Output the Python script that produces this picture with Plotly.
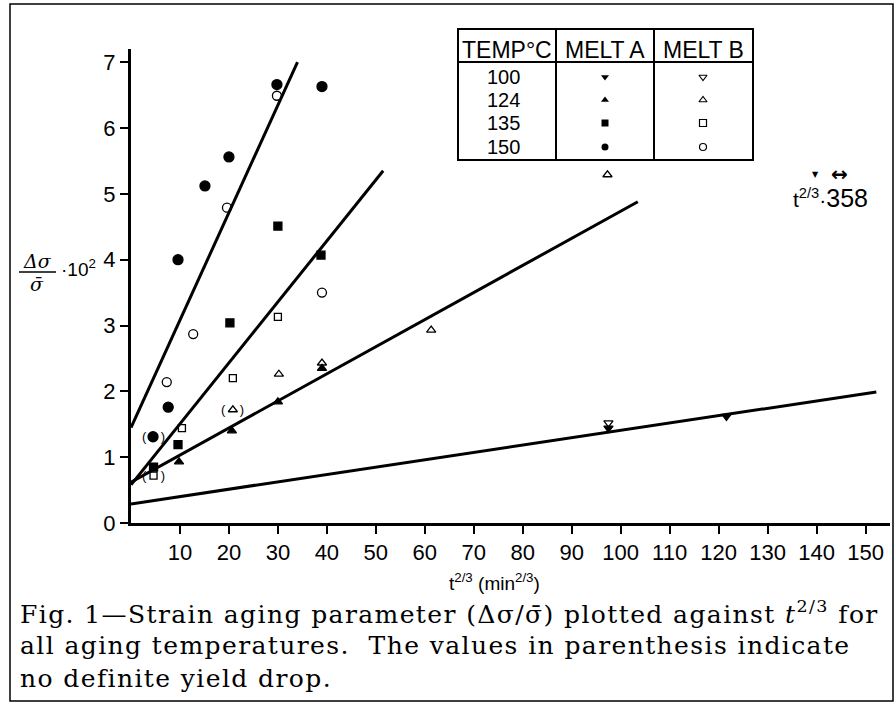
import plotly.graph_objects as go

# ---------------- data ----------------
# Melt A (filled) and Melt B (open) for each aging temperature
a100_x = [97.5, 121.6]
a100_y = [1.44, 1.62]
b100_x = [97.5]
b100_y = [1.52]

a124_x = [9.8, 20.6, 30.0, 39.0]
a124_y = [0.93, 1.40, 1.84, 2.35]
b124_x = [20.8, 30.2, 39.0, 61.3, 97.3]
b124_y = [1.72, 2.26, 2.43, 2.93, 5.29]

a135_x = [4.6, 9.6, 20.2, 30.0, 38.8]
a135_y = [0.85, 1.19, 3.04, 4.51, 4.07]
b135_x = [4.6, 10.4, 20.8, 30.0]
b135_y = [0.72, 1.44, 2.20, 3.13]

a150_x = [4.5, 7.6, 9.6, 15.1, 20.0, 29.8, 39.0]
a150_y = [1.31, 1.76, 4.00, 5.12, 5.56, 6.66, 6.63]
b150_x = [7.3, 12.7, 19.6, 29.8, 39.0]
b150_y = [2.14, 2.87, 4.79, 6.49, 3.50]

# points without definite yield drop (shown in parenthesis)
paren_x = [4.5, 20.8, 4.6]
paren_y = [1.31, 1.72, 0.72]

# fitted lines: start (x=0) and end points
line_names = ["150", "135", "124", "100"]
line_x0 = [0, 0, 0, 0]
line_y0 = [1.45, 0.58, 0.62, 0.29]
line_x1 = [34.0, 51.5, 103.5, 152.2]
line_y1 = [7.00, 5.35, 4.88, 1.99]

temps = ["100", "124", "135", "150"]
x_ticks = [10, 20, 30, 40, 50, 60, 70, 80, 90, 100, 110, 120, 130, 140, 150]
y_ticks = [0, 1, 2, 3, 4, 5, 6, 7]

# ---------------- layout geometry ----------------
W, H = 896, 704
L, R, T, B = 131, 6, 49, 181
XMAX, YMAX = 155, 7.2
PW, PH = W - L - R, H - T - B


def px(x):
    return (x - L) / PW


def py(y):
    return (H - B - y) / PH


def dx(x):  # pixel -> data x
    return (x - L) / PW * XMAX


def dy(y):  # pixel -> data y
    return (H - B - y) / PH * YMAX


fig = go.Figure()

# lines
for i in range(len(line_names)):
    fig.add_trace(go.Scatter(x=[line_x0[i], line_x1[i]], y=[line_y0[i], line_y1[i]],
                             mode="lines", line=dict(color="black", width=3),
                             showlegend=False, hoverinfo="skip", cliponaxis=False))


def pts(x, y, sym, size):
    fig.add_trace(go.Scatter(x=x, y=y, mode="markers", showlegend=False, cliponaxis=False,
                             marker=dict(symbol=sym, size=size, color="black",
                                         line=dict(color="black", width=1.3))))


pts(a100_x, a100_y, "triangle-down", 8)
pts(b100_x, b100_y, "triangle-down-open", 8)
pts(a124_x, a124_y, "triangle-up", 8)
pts(b124_x, b124_y, "triangle-up-open", 8)
pts(a135_x, a135_y, "square", 8)
pts(b135_x, b135_y, "square-open", 7)
pts(a150_x, a150_y, "circle", 10)
pts(b150_x, b150_y, "circle-open", 9)


def ann(x, y, text, size, family="Liberation Sans", xanchor="center", yanchor="middle",
        xref="paper", yref="paper"):
    return dict(x=x, y=y, xref=xref, yref=yref, text=text, showarrow=False,
                xanchor=xanchor, yanchor=yanchor,
                font=dict(size=size, color="black", family=family))


annotations = []
for x, y in zip(paren_x, paren_y):
    annotations.append(ann(x, y, "(&nbsp;&nbsp;&nbsp;&nbsp;)", 13, xref="x", yref="y"))

# ---------------- legend table ----------------
tl, tr, tt, tb = 458, 753, 29, 160
hsep, c1, c2 = 62, 556, 654
shapes = [
    dict(type="rect", xref="paper", yref="paper", x0=px(tl), x1=px(tr), y0=py(tb), y1=py(tt),
         line=dict(color="black", width=2)),
    dict(type="line", xref="paper", yref="paper", x0=px(tl), x1=px(tr), y0=py(hsep), y1=py(hsep),
         line=dict(color="black", width=2)),
    dict(type="line", xref="paper", yref="paper", x0=px(c1), x1=px(c1), y0=py(tb), y1=py(tt),
         line=dict(color="black", width=2)),
    dict(type="line", xref="paper", yref="paper", x0=px(c2), x1=px(c2), y0=py(tb), y1=py(tt),
         line=dict(color="black", width=2)),
    # outer frame of the picture
    dict(type="rect", xref="paper", yref="paper", x0=px(10), x1=px(893), y0=py(701), y1=py(4),
         line=dict(color="black", width=1.5)),
    # fraction bar of the y label
    dict(type="line", xref="paper", yref="paper", x0=px(19), x1=px(56), y0=py(272), y1=py(272),
         line=dict(color="black", width=1.5)),
]

for text, cx in [("TEMP°C", (tl + c1) / 2), ("MELT A", (c1 + c2) / 2), ("MELT B", (c2 + tr) / 2)]:
    annotations.append(ann(px(cx), py(50), text, 23))
row_y = [77, 100, 123, 147]
for t, ry in zip(temps, row_y):
    annotations.append(ann(px(503), py(ry), t, 20))

leg_y = [dy(r) for r in row_y]
fig.add_trace(go.Scatter(x=[dx(605)] * 4, y=leg_y, mode="markers", showlegend=False,
                         cliponaxis=False,
                         marker=dict(symbol=["triangle-down", "triangle-up", "square", "circle"],
                                     size=7, color="black")))
fig.add_trace(go.Scatter(x=[dx(703)] * 4, y=leg_y, mode="markers", showlegend=False,
                         cliponaxis=False,
                         marker=dict(symbol=["triangle-down-open", "triangle-up-open",
                                             "square-open", "circle-open"],
                                     size=7, color="black", line=dict(width=1.2, color="black"))))

# ---------------- texts ----------------
annotations += [
    # right-hand note for the off-scale points
    ann(px(830), py(198), "t<sup>2/3</sup>·<span style='font-size:25px'>358</span>", 21),
    ann(px(815), py(174), "▼", 8, family="DejaVu Sans"),
    ann(px(839), py(174), "<b>↔</b>", 20, family="DejaVu Sans"),
    # y label
    ann(px(37), py(261), "<i>Δσ</i>", 19, family="DejaVu Serif"),
    ann(px(37), py(284), "<i>σ̄</i>", 19, family="DejaVu Serif"),
    ann(px(59), py(268), "·10<sup>2</sup>", 19, xanchor="left"),
    # x title
    ann(px(494), py(582), "t<sup>2/3</sup> (min<sup>2/3</sup>)", 19),
]
cap = ["Fig. 1—Strain aging parameter (Δσ/σ̄) plotted against <i>t</i><sup>2/3</sup> for",
       "all aging temperatures.  The values in parenthesis indicate",
       "no definite yield drop."]
for line, cy in zip(cap, [612, 645, 678]):
    annotations.append(ann(px(18), py(cy), "<span style='letter-spacing:1.4px'>" + line + "</span>",
                           25, family="DejaVu Serif", xanchor="left"))

tickfont = dict(size=22, color="black", family="Liberation Sans")
fig.update_layout(
    width=W, height=H, margin=dict(l=L, r=R, t=T, b=B, pad=0),
    paper_bgcolor="white", plot_bgcolor="white",
    xaxis=dict(range=[0, XMAX], tickvals=x_ticks, showgrid=False, zeroline=False,
               showline=True, linecolor="black", linewidth=3, ticks="outside", ticklen=8,
               tickwidth=2, tickcolor="black", tickfont=tickfont),
    yaxis=dict(range=[0, YMAX], tickvals=y_ticks, showgrid=False, zeroline=False,
               showline=True, linecolor="black", linewidth=3, ticks="outside", ticklen=8,
               tickwidth=2, tickcolor="black", tickfont=tickfont),
    shapes=shapes, annotations=annotations,
)

fig.write_html("out.html", config={"displayModeBar": False},
               post_script="document.body.style.margin='0';document.body.style.overflow='hidden';")
